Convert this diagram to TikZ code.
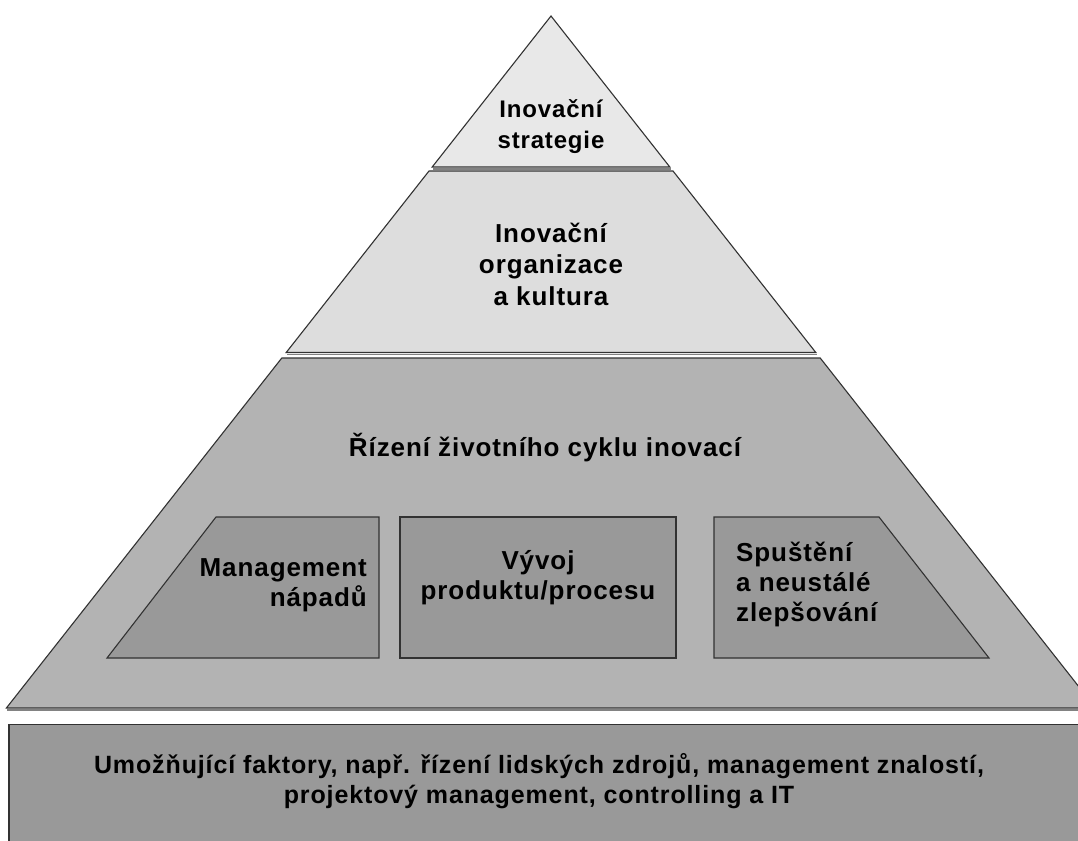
\documentclass[tikz,border=0pt]{standalone}
\usepackage{fontspec}
\setmainfont{Liberation Sans}[LetterSpace=3.5]
\definecolor{tierA}{RGB}{232,232,232}
\definecolor{tierB}{RGB}{221,221,221}
\definecolor{tierC}{RGB}{179,179,179}
\definecolor{boxfill}{RGB}{153,153,153}
\definecolor{edge}{RGB}{50,50,50}
\definecolor{shade}{RGB}{130,130,130}
\begin{document}
\begin{tikzpicture}[x=1pt,y=-1pt,
  tier/.style={draw=edge,line width=1.1pt,line join=miter},
  shadowline/.style={draw=shade,line width=1.6pt},
  lbl/.style={inner sep=0pt,font=\fontsize{26}{30}\selectfont\bfseries,align=center,text=black},
  lblr/.style={lbl,align=right},
  lbll/.style={lbl,align=left}]
\useasboundingbox (0,0) rectangle (1078,840);
\fill[white] (0,0) rectangle (1078,840);
\begin{scope}
\clip (0,0) rectangle (1078,840);
% top tier
\draw[shadowline] (433,169) -- (671,169);
\path[tier,fill=tierA] (551,16) -- (669.8,167) -- (432.2,167) -- cycle;
% second tier
\draw[shadowline] (287,354.5) -- (817,354.5);
\path[tier,fill=tierB] (429,171) -- (673,171) -- (815.8,352.5) -- (286.2,352.5) -- cycle;
% third tier
\draw[shadowline] (7,710) -- (1100,710);
\path[tier,fill=tierC] (281.8,358) -- (820.2,358) -- (1095.6,708) -- (6.4,708) -- cycle;
% phases of the life cycle
\path[tier,fill=boxfill] (216,517) -- (379,517) -- (379,658) -- (107,658) -- cycle;
\path[tier,fill=boxfill] (400,517) -- (676,517) -- (676,658) -- (400,658) -- cycle;
\path[tier,fill=boxfill] (714,517) -- (879,517) -- (989,658) -- (714,658) -- cycle;
% enabling factors
\path[tier,fill=boxfill] (9,724.5) -- (1090,724.5) -- (1090,860) -- (9,860) -- cycle;
\end{scope}
% labels (base anchor sits on the last line)
\node[lbl,anchor=base,font=\fontsize{24}{31}\selectfont\bfseries] (strat) at (551,148) {Inovační\\strategie};
\node[lbl,anchor=base,font=\fontsize{26}{31.5}\selectfont\bfseries] (org) at (551,305) {Inovační\\organizace\\a kultura};
\node[lbl,anchor=base] (cycle) at (545,456) {Řízení životního cyklu inovací};
\node[lblr,anchor=base east] (ideas) at (367,606) {Management\\nápadů};
\node[lbl,anchor=base] (dev) at (538,599) {Vývoj\\produktu/procesu};
\node[lbll,anchor=base west] (launch) at (736,621) {Spuštění\\a neustálé\\zlepšování};
\node[lbl,anchor=base,font=\fontsize{25}{30}\selectfont\bfseries] (enab) at (539,803) {Umožňující faktory, např. řízení lidských zdrojů, management znalostí,\\projektový management, controlling a IT};
\end{tikzpicture}
\end{document}
